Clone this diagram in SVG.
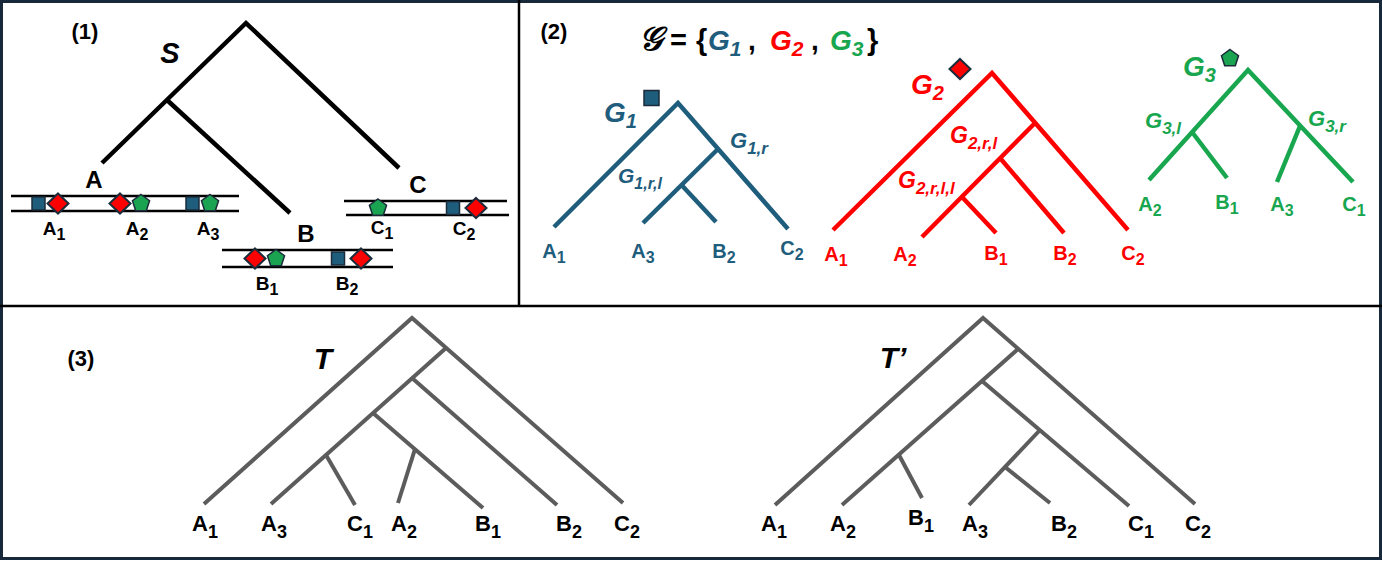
<svg xmlns="http://www.w3.org/2000/svg" width="1382" height="561" viewBox="0 0 1382 561">
<style>
text{font-family:"Liberation Sans",Arial,sans-serif;font-weight:bold}
.c{text-anchor:middle}
.it{font-style:italic}
.bl{fill:#1f5d7d}.rd{fill:#ff0000}.gr{fill:#18a64f}.bk{fill:#000}
.tS{stroke:#000;stroke-width:4.5;fill:none}
.tB{stroke:#1f5d7d;stroke-width:4.5;fill:none}
.tR{stroke:#ff0000;stroke-width:4.5;fill:none}
.tG{stroke:#18a64f;stroke-width:4.5;fill:none}
.tT{stroke:#5c5c5c;stroke-width:4;fill:none}
.chr{stroke:#000;stroke-width:2.5}
.pl{font-size:22px}
.l1{font-size:19px}.s1{font-size:16px}
.l2{font-size:20px}.s2{font-size:16px}
.l3{font-size:22px}.s3{font-size:18px}
</style>
<defs>
<rect id="sq" x="-6.5" y="-6.5" width="13" height="13" fill="#1f5d7d" stroke="#1b2b3a" stroke-width="1.5"/>
<polygon id="dm" points="0,-10 10.5,0 0,10 -10.5,0" fill="#ff0000" stroke="#1b2b3a" stroke-width="2"/>
<polygon id="pt" points="0,-9 8.56,-2.78 5.29,7.28 -5.29,7.28 -8.56,-2.78" fill="#1aa350" stroke="#1b2b3a" stroke-width="1.5"/>
</defs>
<rect x="0" y="0" width="1382" height="561" fill="#fff"/>

<!-- frames -->
<g id="frames">
<rect x="1.5" y="1.5" width="1379" height="557" fill="none" stroke="#17293a" stroke-width="3"/>
<line x1="519" y1="0" x2="519" y2="306" stroke="#000" stroke-width="2.5"/>
<line x1="0" y1="306" x2="1382" y2="306" stroke="#000" stroke-width="2.5"/>
</g>

<!-- ===== Panel 1 ===== -->
<g id="panel1">
<text id="lbl1" x="85" y="39" class="c pl">(1)</text>
<g id="connectors-S">
<polyline class="tS" points="102,163 246,23 399,168"/>
<line class="tS" x1="167" y1="100" x2="290" y2="213"/>
<line class="chr" x1="11" y1="196" x2="239" y2="196"/>
<line class="chr" x1="11" y1="211" x2="239" y2="211"/>
<line class="chr" x1="344" y1="201" x2="507" y2="201"/>
<line class="chr" x1="346" y1="215" x2="509" y2="215"/>
<line class="chr" x1="222" y1="250" x2="393" y2="250"/>
<line class="chr" x1="222" y1="267" x2="393" y2="267"/>
</g>
<g id="nodeS"><text x="170" y="63" class="c it" font-size="29">S</text></g>
<g id="nodeA"><text x="94" y="188" class="c" font-size="24">A</text></g>
<g id="nodeB"><text x="306" y="242" class="c" font-size="24">B</text></g>
<g id="nodeC"><text x="418" y="193" class="c" font-size="24">C</text></g>
<g id="geneA1"><use href="#sq" x="38.5" y="203.5"/><use href="#dm" x="58" y="203.5"/><text x="54" y="235" class="c l1">A<tspan dy="5" class="s1">1</tspan></text></g>
<g id="geneA2"><use href="#dm" x="120" y="203.5"/><use href="#pt" x="141" y="203.5"/><text x="137" y="235" class="c l1">A<tspan dy="5" class="s1">2</tspan></text></g>
<g id="geneA3"><use href="#sq" x="192.5" y="203.5"/><use href="#pt" x="210" y="203.5"/><text x="208" y="235" class="c l1">A<tspan dy="5" class="s1">3</tspan></text></g>
<g id="geneC1"><use href="#pt" x="378" y="208"/><text x="382" y="234" class="c l1">C<tspan dy="5" class="s1">1</tspan></text></g>
<g id="geneC2"><use href="#sq" x="453" y="208"/><use href="#dm" x="476" y="208"/><text x="464" y="235" class="c l1">C<tspan dy="5" class="s1">2</tspan></text></g>
<g id="geneB1"><use href="#dm" x="255" y="258.5"/><use href="#pt" x="276" y="258.5"/><text x="267" y="290" class="c l1">B<tspan dy="5" class="s1">1</tspan></text></g>
<g id="geneB2"><use href="#sq" x="338" y="258.5"/><use href="#dm" x="361" y="258.5"/><text x="347" y="290" class="c l1">B<tspan dy="5" class="s1">2</tspan></text></g>
</g>

<!-- ===== Panel 2 ===== -->
<g id="panel2">
<text id="lbl2" x="554" y="39" class="c pl">(2)</text>
<g id="title">
<text x="639" y="50" font-size="33" style="font-family:'DejaVu Serif','DejaVu Sans',serif;font-style:italic">𝒢</text>
<text x="670" y="50" font-size="29">=</text>
<text x="696" y="50" font-size="29">{</text>
<text x="708" y="50" font-size="28" class="it bl">G<tspan dy="6" font-size="21">1</tspan></text>
<text x="748" y="50" font-size="28">,</text>
<text x="770" y="50" font-size="28" class="it rd">G<tspan dy="6" font-size="21">2</tspan></text>
<text x="811" y="50" font-size="28">,</text>
<text x="830" y="50" font-size="28" class="it gr">G<tspan dy="6" font-size="21">3</tspan></text>
<text x="867" y="50" font-size="29">}</text>
</g>

<g id="connectors-G">
<polyline class="tB" points="554,227 678,103 788,229"/>
<line class="tB" x1="718" y1="149" x2="643" y2="223"/>
<line class="tB" x1="681.5" y1="185" x2="716" y2="222"/>
<polyline class="tR" points="833,230 992,73 1128,230"/>
<line class="tR" x1="1035" y1="123" x2="922" y2="237"/>
<line class="tR" x1="1000" y1="158" x2="1064" y2="233"/>
<line class="tR" x1="962" y1="197" x2="996" y2="233"/>
<polyline class="tG" points="1149,180 1248,70 1353,182"/>
<line class="tG" x1="1192" y1="132" x2="1227" y2="178"/>
<line class="tG" x1="1300" y1="126" x2="1277" y2="182"/>
</g>

<g id="G1">
<rect x="644" y="90.5" width="15" height="15" fill="#1f5d7d" stroke="#1b2b3a" stroke-width="1.5"/>
<text x="604" y="122" font-size="28" class="it bl">G<tspan dy="6" font-size="20">1</tspan></text>
<text x="730" y="148" font-size="22" class="it bl">G<tspan dy="6" font-size="17">1,r</tspan></text>
<text x="618" y="183" font-size="21" class="it bl">G<tspan dy="6" font-size="16">1,r,l</tspan></text>
<text x="554" y="258" class="c l2 bl">A<tspan dy="5" class="s2">1</tspan></text>
<text x="643" y="258" class="c l2 bl">A<tspan dy="5" class="s2">3</tspan></text>
<text x="724" y="258" class="c l2 bl">B<tspan dy="5" class="s2">2</tspan></text>
<text x="792" y="255" class="c l2 bl">C<tspan dy="5" class="s2">2</tspan></text>
</g>

<g id="G2">
<polygon points="960,59 970.5,69 960,79 949.5,69" fill="#ff0000" stroke="#1b2b3a" stroke-width="2"/>
<text x="911" y="94" font-size="28" class="it rd">G<tspan dy="6" font-size="20">2</tspan></text>
<text x="950" y="143" font-size="23" class="it rd">G<tspan dy="6" font-size="17">2,r,l</tspan></text>
<text x="898" y="188" font-size="23" class="it rd">G<tspan dy="6" font-size="17">2,r,l,l</tspan></text>
<text x="836" y="261" class="c l2 rd">A<tspan dy="5" class="s2">1</tspan></text>
<text x="905" y="261" class="c l2 rd">A<tspan dy="5" class="s2">2</tspan></text>
<text x="996" y="260" class="c l2 rd">B<tspan dy="5" class="s2">1</tspan></text>
<text x="1065" y="260" class="c l2 rd">B<tspan dy="5" class="s2">2</tspan></text>
<text x="1133" y="260" class="c l2 rd">C<tspan dy="5" class="s2">2</tspan></text>
</g>

<g id="G3">
<use href="#pt" x="1230" y="58.5"/>
<text x="1183" y="76" font-size="28" class="it gr">G<tspan dy="6" font-size="20">3</tspan></text>
<text x="1145" y="128" font-size="22" class="it gr">G<tspan dy="6" font-size="17">3,l</tspan></text>
<text x="1308" y="126" font-size="22" class="it gr">G<tspan dy="6" font-size="17">3,r</tspan></text>
<text x="1150" y="211" class="c l2 gr">A<tspan dy="5" class="s2">2</tspan></text>
<text x="1227" y="209" class="c l2 gr">B<tspan dy="5" class="s2">1</tspan></text>
<text x="1282" y="211" class="c l2 gr">A<tspan dy="5" class="s2">3</tspan></text>
<text x="1354" y="211" class="c l2 gr">C<tspan dy="5" class="s2">1</tspan></text>
</g>
</g>

<!-- ===== Panel 3 ===== -->
<g id="panel3">
<text id="lbl3" x="81" y="366" class="c pl">(3)</text>
<g id="connectors-T">
<polyline class="tT" points="204,504 412,318 623,503"/>
<line class="tT" x1="446" y1="348" x2="271" y2="504"/>
<line class="tT" x1="412" y1="378" x2="557" y2="505"/>
<line class="tT" x1="373" y1="413" x2="483" y2="508"/>
<line class="tT" x1="326" y1="455" x2="355" y2="505"/>
<line class="tT" x1="415" y1="449" x2="398" y2="503"/>
<polyline class="tT" points="775,505 983,318 1195,504"/>
<line class="tT" x1="1018" y1="349" x2="842" y2="505"/>
<line class="tT" x1="982" y1="381" x2="1129" y2="506"/>
<line class="tT" x1="1040" y1="430" x2="969" y2="505"/>
<line class="tT" x1="1005" y1="467" x2="1050" y2="503"/>
<line class="tT" x1="899" y1="455" x2="922" y2="498"/>
</g>
<g id="T">
<text x="323" y="369" class="c it" font-size="30">T</text>
<text x="205" y="531" class="c l3">A<tspan dy="7" class="s3">1</tspan></text>
<text x="274" y="531" class="c l3">A<tspan dy="7" class="s3">3</tspan></text>
<text x="360" y="531" class="c l3">C<tspan dy="7" class="s3">1</tspan></text>
<text x="404" y="531" class="c l3">A<tspan dy="7" class="s3">2</tspan></text>
<text x="488" y="531" class="c l3">B<tspan dy="7" class="s3">1</tspan></text>
<text x="569" y="531" class="c l3">B<tspan dy="7" class="s3">2</tspan></text>
<text x="627" y="531" class="c l3">C<tspan dy="7" class="s3">2</tspan></text>
</g>
<g id="Tprime">
<text x="893" y="368" class="c it" font-size="30">T’</text>
<text x="774" y="531" class="c l3">A<tspan dy="7" class="s3">1</tspan></text>
<text x="843" y="531" class="c l3">A<tspan dy="7" class="s3">2</tspan></text>
<text x="921" y="525" class="c l3">B<tspan dy="7" class="s3">1</tspan></text>
<text x="975" y="531" class="c l3">A<tspan dy="7" class="s3">3</tspan></text>
<text x="1064" y="531" class="c l3">B<tspan dy="7" class="s3">2</tspan></text>
<text x="1141" y="531" class="c l3">C<tspan dy="7" class="s3">1</tspan></text>
<text x="1198" y="531" class="c l3">C<tspan dy="7" class="s3">2</tspan></text>
</g>
</g>
</svg>
